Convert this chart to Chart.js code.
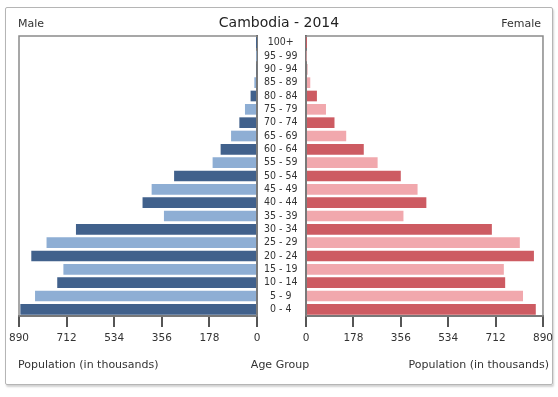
<!DOCTYPE html>
<html><head><meta charset="utf-8">
<script src="https://cdn.jsdelivr.net/npm/chart.js@4"></script>
<style>
html,body{margin:0;padding:0;background:#fff;}
#wrap{position:relative;width:558px;height:397px;overflow:hidden;background:#fff;font-family:"DejaVu Sans",sans-serif;color:#333;}
#frame{position:absolute;left:5px;top:7px;width:546px;height:376px;border:1px solid #b5b5b5;box-shadow:1px 2px 2px rgba(0,0,0,0.18);border-radius:2px;}
canvas{position:absolute;left:0;top:0;}
.t{position:absolute;white-space:nowrap;line-height:1;}
</style></head>
<body><div id="wrap">
<div id="frame"></div>
<canvas id="male" width="558" height="397"></canvas>
<canvas id="female" width="558" height="397"></canvas>
<div class="t" style="left:0;width:558px;text-align:center;top:15px;font-size:14px;color:#222;">Cambodia - 2014</div>
<div class="t" style="left:18px;top:18px;font-size:11px;">Male</div>
<div class="t" style="right:17px;top:18px;font-size:11px;">Female</div>
<div class="t" style="left:18px;top:359px;font-size:11px;">Population (in thousands)</div>
<div class="t" style="left:0;width:560px;text-align:center;top:359px;font-size:11px;">Age Group</div>
<div class="t" style="right:9px;top:359px;font-size:11px;">Population (in thousands)</div>
</div>
<script>
const ageGroups = ['0 - 4','5 - 9','10 - 14','15 - 19','20 - 24','25 - 29','30 - 34','35 - 39','40 - 44','45 - 49','50 - 54','55 - 59','60 - 64','65 - 69','70 - 74','75 - 79','80 - 84','85 - 89','90 - 94','95 - 99','100+'];
const maleValues = [885,830,747,724,844,787,677,348,428,394,310,166,136,97,66,45,24,10,3,1,0.3];
const femaleValues = [863,815,748,743,856,803,698,366,452,419,356,269,217,151,107,75,41,16,5,1.5,0.5];
const tickValues = [0,178,356,534,712,890];

const maleDark = '#41618c', maleLight = '#8eaed4';
const femaleDark = '#cd5b62', femaleLight = '#f1a8ad';

const boxPlugin = {
  id: 'box',
  beforeDatasetsDraw(chart) {
    const {ctx, chartArea: a} = chart;
    ctx.save();
    ctx.strokeStyle = '#8a8a8a';
    ctx.lineWidth = 1.5;
    ctx.strokeRect(a.left, a.top, a.right - a.left, a.bottom - a.top);
    ctx.restore();
  }
};

function xScale(reverse) {
  return {
    reverse: reverse, min: 0, max: 890,
    afterBuildTicks: s => { s.ticks = tickValues.map(v => ({value: v})); },
    afterFit: s => { s.height = 30; },
    grid: {drawOnChartArea: false, drawTicks: true, tickLength: 11, color: '#555', lineWidth: 2},
    border: {display: true, color: '#444', width: 2},
    ticks: {padding: 5, color: '#333', font: {family: 'DejaVu Sans', size: 10.5}, maxRotation: 0, autoSkip: false}
  };
}

new Chart(document.getElementById('male'), {
  type: 'bar',
  data: {labels: ageGroups, datasets: [{data: maleValues,
    backgroundColor: c => c.dataIndex % 2 === 0 ? maleDark : maleLight,
    barPercentage: 0.8, categoryPercentage: 1}]},
  options: {
    indexAxis: 'y', responsive: false, animation: false,
    layout: {padding: {left: 19, top: 36, right: 252, bottom: 51}},
    plugins: {legend: {display: false}, tooltip: {enabled: false}},
    scales: {
      x: xScale(true),
      y: {position: 'right', reverse: true, z: 1,
        afterFit: s => { s.width = 49; },
        grid: {display: false, drawTicks: false},
        border: {display: true, color: '#444', width: 2},
        ticks: {crossAlign: 'center', padding: 7, color: '#333', autoSkip: false,
          font: {family: "'DejaVu Sans Condensed', 'DejaVu Sans'", size: 10.5}}}
    }
  },
  plugins: [boxPlugin]
});

new Chart(document.getElementById('female'), {
  type: 'bar',
  data: {labels: ageGroups, datasets: [{data: femaleValues,
    backgroundColor: c => c.dataIndex % 2 === 0 ? femaleDark : femaleLight,
    barPercentage: 0.8, categoryPercentage: 1}]},
  options: {
    indexAxis: 'y', responsive: false, animation: false,
    layout: {padding: {left: 306, top: 36, right: 14, bottom: 51}},
    plugins: {legend: {display: false}, tooltip: {enabled: false}},
    scales: {
      x: xScale(false),
      y: {position: 'left', reverse: true, z: 1,
        afterFit: s => { s.width = 0; },
        grid: {display: false, drawTicks: false},
        border: {display: true, color: '#444', width: 2},
        ticks: {display: false}}
    }
  },
  plugins: [boxPlugin]
});
</script>
</body></html>
